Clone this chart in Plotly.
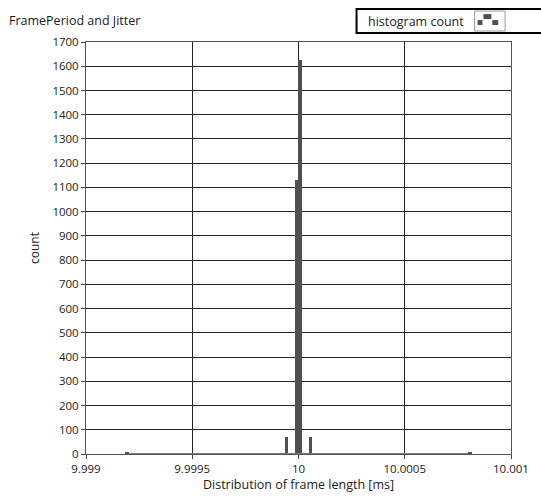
import plotly.graph_objects as go

# Histogram of measured frame periods (bin centre in ms, count)
bin_centers = [9.999194, 9.999944, 9.999992, 10.000008, 10.000056, 10.000806]
bin_counts = [5, 70, 1130, 1625, 70, 5]
bin_width = 0.0000165
hist_range = [9.9992, 10.0008]

x_tick_vals = [9.999, 9.9995, 10.0, 10.0005, 10.001]
x_tick_text = ["9.999", "9.9995", "10", "10.0005", "10.001"]
y_tick_vals = list(range(0, 1701, 100))

W, H = 541, 500
L, R, T, B = 86, 23, 42, 45
PW, PH = W - L - R, H - T - B


def px(x):
    return (x - L) / PW


def py(y):
    return (H - B - y) / PH


FONT = "Open Sans"
TXT = "#1a1a1a"
fig = go.Figure()

# zero baseline spanning the histogram range
fig.add_trace(go.Scatter(
    x=hist_range, y=[0, 0], mode="lines",
    line=dict(color="#7a7a7a", width=2), hoverinfo="skip", showlegend=False,
))

fig.add_trace(go.Bar(
    x=bin_centers, y=bin_counts, width=bin_width,
    marker=dict(color="#505050", line=dict(width=0)),
    name="histogram count", showlegend=False,
))

axis_common = dict(
    showline=True, linecolor="#555555", linewidth=1, mirror=True,
    showgrid=True, gridcolor="#222222", gridwidth=1,
    ticks="outside", ticklen=4, tickcolor="#444444", zeroline=False,
    tickfont=dict(family=FONT, size=11.5, color=TXT),
)

fig.update_layout(
    width=W, height=H,
    margin=dict(l=L, r=R, t=T, b=B),
    paper_bgcolor="white", plot_bgcolor="white",
    bargap=0,
    xaxis=dict(
        range=[9.999, 10.001], tickvals=x_tick_vals, ticktext=x_tick_text,
        title=dict(text="Distribution of frame length [ms]", standoff=3,
                   font=dict(family=FONT, size=12.5, color=TXT)),
        **axis_common,
    ),
    yaxis=dict(
        range=[0, 1700], tickvals=y_tick_vals,
        title=dict(text="count", standoff=10,
                   font=dict(family=FONT, size=12, color=TXT)),
        **axis_common,
    ),
    font=dict(family=FONT, size=12, color=TXT),
)

# Graph caption
fig.add_annotation(
    xref="paper", yref="paper", x=px(6), y=py(20), xanchor="left", yanchor="middle",
    text="FramePeriod and Jitter", showarrow=False,
    font=dict(family=FONT, size=12.5, color=TXT),
)

# Plot legend box with histogram icon
shapes = [
    dict(type="rect", xref="paper", yref="paper",
         x0=px(361), x1=px(560), y0=py(33), y1=py(9),
         line=dict(color="black", width=2), fillcolor="white"),
    dict(type="rect", xref="paper", yref="paper",
         x0=px(481), x1=px(512), y0=py(31), y1=py(11),
         line=dict(color="#9a9a9a", width=1), fillcolor="white"),
    dict(type="rect", xref="paper", yref="paper",
         x0=px(484), x1=px(489), y0=py(25), y1=py(20),
         line=dict(width=0), fillcolor="#505050"),
    dict(type="rect", xref="paper", yref="paper",
         x0=px(490), x1=px(498), y0=py(19), y1=py(14),
         line=dict(width=0), fillcolor="#505050"),
    dict(type="rect", xref="paper", yref="paper",
         x0=px(499), x1=px(505), y0=py(25), y1=py(20),
         line=dict(width=0), fillcolor="#505050"),
]
fig.update_layout(shapes=shapes)
fig.add_annotation(
    xref="paper", yref="paper", x=px(421), y=py(21), xanchor="center", yanchor="middle",
    text="histogram count", showarrow=False,
    font=dict(family=FONT, size=12.5, color=TXT),
)

fig.write_html("out.html")
